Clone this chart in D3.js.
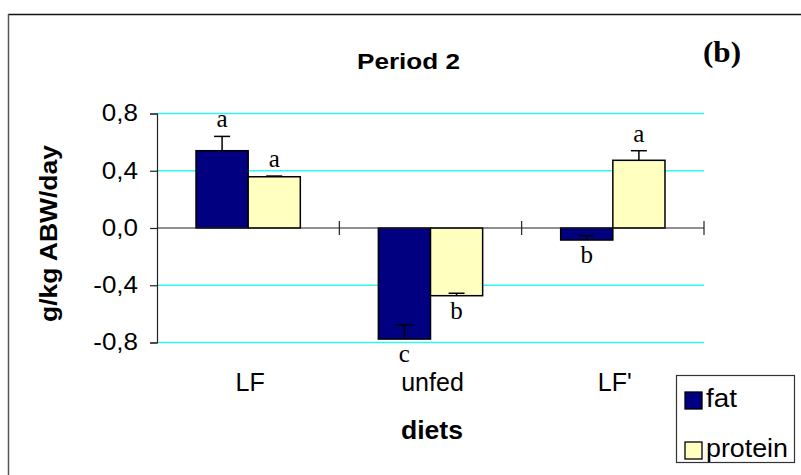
<!DOCTYPE html>
<html>
<head>
<meta charset="utf-8">
<script src="https://cdn.jsdelivr.net/npm/d3@7"></script>
<style>
  html, body { margin: 0; padding: 0; background: #fff; }
  svg { display: block; }
</style>
</head>
<body>
<svg id="chart" width="801" height="475"></svg>
<script>
// ---- data ----
const categories = ["LF", "unfed", "LF'"];
const seriesNames = ["fat", "protein"];
const fatValues = [0.54, -0.776, -0.084];
const proteinValues = [0.358, -0.473, 0.473];
const fatErrors = [0.10, 0.098, 0.03];
const proteinErrors = [0.005, 0.017, 0.067];
const fatLetters = ["a", "c", "b"];
const proteinLetters = ["a", "b", "a"];
const yTickValues = [-0.8, -0.4, 0, 0.4, 0.8];
const titleText = "Period 2";
const panelText = "(b)";
const yAxisTitle = "g/kg ABW/day";
const xAxisTitle = "diets";

const colors = { fat: "#000080", protein: "#FFFFC0" };

const svg = d3.select("#chart");
const SANS = "'Liberation Sans', Arial, sans-serif";
const SERIF = "'Liberation Serif', 'Times New Roman', serif";

function fitText(sel, len) {
  sel.attr("textLength", len).attr("lengthAdjust", "spacingAndGlyphs");
}
function stretch(sel, factor) {
  sel.each(function () {
    const l = this.getComputedTextLength();
    d3.select(this).attr("textLength", l * factor).attr("lengthAdjust", "spacingAndGlyphs");
  });
}

// outer frame (only top/left visible)
svg.append("line").attr("x1", 8).attr("x2", 801).attr("y1", 14.5).attr("y2", 14.5)
  .attr("stroke", "#111").attr("stroke-width", 1.5);
svg.append("line").attr("x1", 8.5).attr("x2", 8.5).attr("y1", 14).attr("y2", 475)
  .attr("stroke", "#555").attr("stroke-width", 1.5);

// scales
const plotLeft = 157, plotRight = 704;
const y = d3.scaleLinear().domain([-0.8, 0.8]).range([342.5, 113.5]);
const x0 = d3.scaleBand().domain(categories).range([plotLeft, plotRight]).padding(0);
const bw = x0.bandwidth();
const x1 = d3.scaleBand().domain(seriesNames).range([bw * 0.214, bw * 0.786]).padding(0);

const rows = categories.map((c, i) => ({
  cat: c,
  bars: [
    { key: "fat", value: fatValues[i], err: fatErrors[i], letter: fatLetters[i] },
    { key: "protein", value: proteinValues[i], err: proteinErrors[i], letter: proteinLetters[i] }
  ]
}));

// gridlines
svg.append("g").selectAll("line")
  .data(yTickValues.filter(v => v !== 0))
  .join("line")
  .attr("x1", plotLeft).attr("x2", plotRight)
  .attr("y1", d => y(d)).attr("y2", d => y(d))
  .attr("stroke", "#33F5F5").attr("stroke-width", 1.6);

// y axis
const yAxis = d3.axisLeft(y)
  .tickValues(yTickValues)
  .tickSize(7)
  .tickPadding(12)
  .tickFormat(d => d3.format(".1f")(d).replace(".", ",").replace("−", "-"));
const gy = svg.append("g").attr("transform", `translate(${plotLeft},0)`).call(yAxis);
gy.select(".domain").attr("stroke", "#222").attr("stroke-width", 1.2);
gy.selectAll(".tick line").attr("stroke", "#222").attr("stroke-width", 1.2);
gy.selectAll(".tick text")
  .attr("font-family", SANS).attr("font-size", 23).attr("fill", "#000");
stretch(gy.selectAll(".tick text"), 1.13);

// bars
const groups = svg.append("g").selectAll("g")
  .data(rows).join("g")
  .attr("transform", d => `translate(${x0(d.cat)},0)`);

groups.selectAll("rect")
  .data(d => d.bars).join("rect")
  .attr("x", d => x1(d.key))
  .attr("width", x1.bandwidth())
  .attr("y", d => y(Math.max(0, d.value)))
  .attr("height", d => Math.abs(y(d.value) - y(0)))
  .attr("fill", d => colors[d.key])
  .attr("stroke", "#000").attr("stroke-width", 1.5);

// error bars (plus direction)
const capW = 16;
groups.selectAll("g.err")
  .data(d => d.bars).join("g").attr("class", "err")
  .each(function (d) {
    const g = d3.select(this);
    const cx = x1(d.key) + x1.bandwidth() / 2;
    g.append("line").attr("x1", cx).attr("x2", cx)
      .attr("y1", y(d.value)).attr("y2", y(d.value + d.err))
      .attr("stroke", "#000").attr("stroke-width", 1.5);
    g.append("line").attr("x1", cx - capW / 2).attr("x2", cx + capW / 2)
      .attr("y1", y(d.value + d.err)).attr("y2", y(d.value + d.err))
      .attr("stroke", "#000").attr("stroke-width", 1.5);
  });

// significance letters
groups.selectAll("text.letter")
  .data(d => d.bars).join("text").attr("class", "letter")
  .attr("x", d => x1(d.key) + x1.bandwidth() / 2)
  .attr("y", d => d.value >= 0 ? y(Math.max(d.value, d.value + d.err)) - 9 : y(d.value) + 23)
  .attr("text-anchor", "middle")
  .attr("font-family", SERIF).attr("font-size", 25).attr("fill", "#000")
  .text(d => d.letter);

// x axis line with crossing category ticks
svg.append("line").attr("x1", plotLeft).attr("x2", plotRight)
  .attr("y1", y(0)).attr("y2", y(0))
  .attr("stroke", "#222").attr("stroke-width", 1.2);
const boundaries = categories.map(c => x0(c)).concat([x0.range()[1]]).slice(1);
svg.append("g").selectAll("line")
  .data(boundaries).join("line")
  .attr("x1", d => d).attr("x2", d => d)
  .attr("y1", y(0) - 7).attr("y2", y(0) + 7)
  .attr("stroke", "#222").attr("stroke-width", 1.2);

// category labels
svg.append("g").selectAll("text")
  .data(categories).join("text")
  .attr("x", d => x0(d) + bw / 2 + 2)
  .attr("y", 391)
  .attr("text-anchor", "middle")
  .attr("font-family", SANS).attr("font-size", 25).attr("fill", "#000")
  .text(d => d);

// axis titles
svg.append("text")
  .attr("x", 432).attr("y", 439)
  .attr("text-anchor", "middle")
  .attr("font-family", SANS).attr("font-weight", "bold").attr("font-size", 25)
  .text(xAxisTitle).call(fitText, 62);

svg.append("text")
  .attr("transform", "translate(57,233.5) rotate(-90)")
  .attr("text-anchor", "middle")
  .attr("font-family", SANS).attr("font-weight", "bold").attr("font-size", 23)
  .text(yAxisTitle).call(fitText, 177);

// title and panel label
svg.append("text")
  .attr("x", 408.5).attr("y", 69)
  .attr("text-anchor", "middle")
  .attr("font-family", SANS).attr("font-weight", "bold").attr("font-size", 22.5)
  .text(titleText).call(fitText, 103);

svg.append("text")
  .attr("x", 703).attr("y", 62)
  .attr("font-family", SERIF).attr("font-weight", "bold").attr("font-size", 30)
  .text(panelText).call(fitText, 38);

// legend
const legend = svg.append("g");
legend.append("rect")
  .attr("x", 676.5).attr("y", 375.5).attr("width", 118).attr("height", 87)
  .attr("fill", "#fff").attr("stroke", "#333").attr("stroke-width", 1.2);
const legendItems = legend.selectAll("g.item")
  .data(seriesNames).join("g").attr("class", "item")
  .attr("transform", (d, i) => `translate(685,${392 + i * 50})`);
legendItems.append("rect")
  .attr("width", 17).attr("height", 17)
  .attr("fill", d => colors[d]).attr("stroke", "#000").attr("stroke-width", 1.3);
legendItems.append("text")
  .attr("x", 21).attr("y", 15)
  .attr("font-family", SANS).attr("font-size", 25).attr("fill", "#000")
  .text(d => d)
  .each(function (d) { fitText(d3.select(this), d === "fat" ? 31 : 82); });
</script>
</body>
</html>
